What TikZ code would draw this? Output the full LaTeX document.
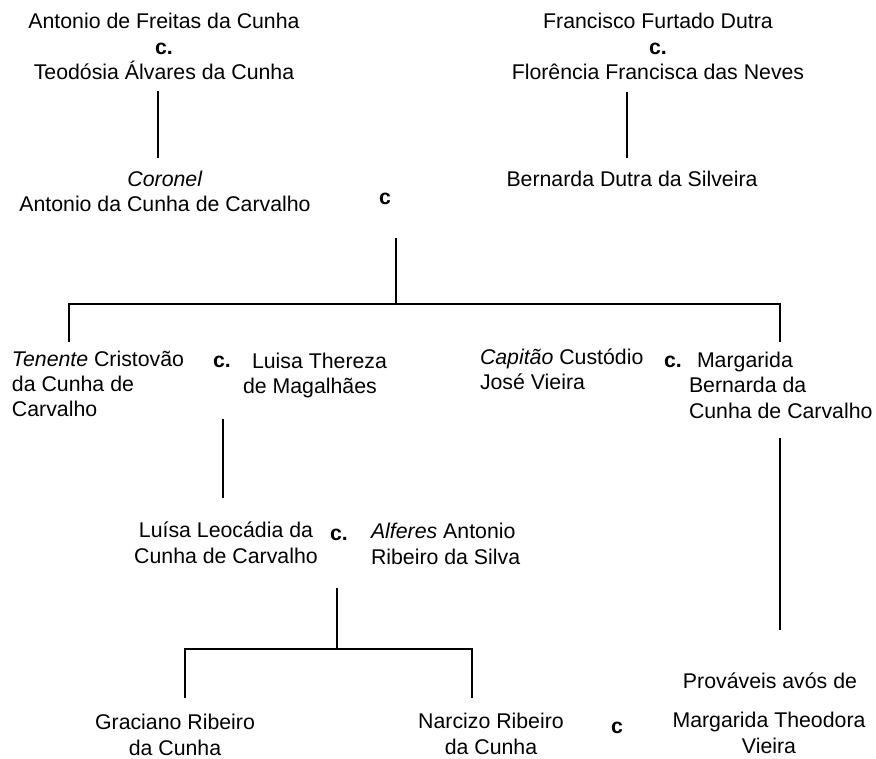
\documentclass[tikz,border=0pt]{standalone}
\usepackage{fontspec}
\setmainfont{Liberation Sans}
\begin{document}
\begin{tikzpicture}[x=1pt,y=-1pt,
  txt/.style={inner sep=0pt, outer sep=0pt, font=\fontsize{21.3}{25.5}\selectfont},
  ctr/.style={txt, align=center, anchor=base},
  lft/.style={txt, align=left, anchor=base west},
  link/.style={line width=1.3pt, draw=black}]
\useasboundingbox (0,0) rectangle (876,759);

% generation 1 (positions give the baseline of the last line)
\node[ctr] (a1) at (164,80) {Antonio de Freitas da Cunha\\\textbf{c.}\\Teodósia Álvares da Cunha};
\node[ctr] (b1) at (658,80) {Francisco Furtado Dutra\\\textbf{c.}\\Florência Francisca das Neves};

% generation 2
\node[ctr] (cor) at (165,212) {\textit{Coronel}\\Antonio da Cunha de Carvalho};
\node[ctr] (ber) at (632,187) {Bernarda Dutra da Silveira};
\node[ctr] (c1) at (385,205) {\textbf{c}};

% generation 3
\node[lft] (ten) at (12,417) {\textit{Tenente} Cristovão\\da Cunha de\\Carvalho};
\node[ctr] (c2) at (222,368) {\textbf{c.}};
\node[lft] (lt) at (243,394) {\hspace*{9pt}Luisa Thereza\\de Magalhães};
\node[lft] (cap) at (480,390) {\textit{Capitão} Custódio\\José Vieira};
\node[ctr] (c3) at (673,368) {\textbf{c.}};
\node[lft] (marg) at (689,418) {\hspace*{8pt}Margarida\\Bernarda da\\Cunha de Carvalho};

% generation 4
\node[ctr] (ll) at (226,563) {Luísa Leocádia da\\Cunha de Carvalho};
\node[ctr] (c4) at (339,540) {\textbf{c.}};
\node[lft] (alf) at (371,564) {\textit{Alferes} Antonio\\Ribeiro da Silva};

% generation 5
\node[ctr] (gra) at (175,755) {Graciano Ribeiro\\da Cunha};
\node[ctr] (nar) at (491,754) {Narcizo Ribeiro\\da Cunha};
\node[ctr] (c5) at (617,733) {\textbf{c}};
\node[ctr] (prov) at (770,688) {Prováveis avós de};
\node[ctr] (mt) at (769,753) {Margarida Theodora\\Vieira};

% connector ends
\coordinate (p1a) at (158,91);  \coordinate (p1b) at (158,158);
\coordinate (p2a) at (627,92);  \coordinate (p2b) at (627,158);
\coordinate (p3a) at (396,238); \coordinate (p3b) at (396,304);
\coordinate (p3L) at (69,342);  \coordinate (p3R) at (780,342);
\coordinate (p4a) at (223,419); \coordinate (p4b) at (223,498);
\coordinate (p5a) at (337,588); \coordinate (p5b) at (337,649);
\coordinate (p5L) at (185,698); \coordinate (p5R) at (472,698);
\coordinate (p6a) at (780,438); \coordinate (p6b) at (780,630);

\draw[link] (p1a) -- (p1b);
\draw[link] (p2a) -- (p2b);
\draw[link] (p3a) -- (p3b);
\draw[link] (p3L) -- (p3L |- p3b) -- (p3R |- p3b) -- (p3R);
\draw[link] (p4a) -- (p4b);
\draw[link] (p5a) -- (p5b);
\draw[link] (p5L) -- (p5L |- p5b) -- (p5R |- p5b) -- (p5R);
\draw[link] (p6a) -- (p6b);
\end{tikzpicture}
\end{document}
